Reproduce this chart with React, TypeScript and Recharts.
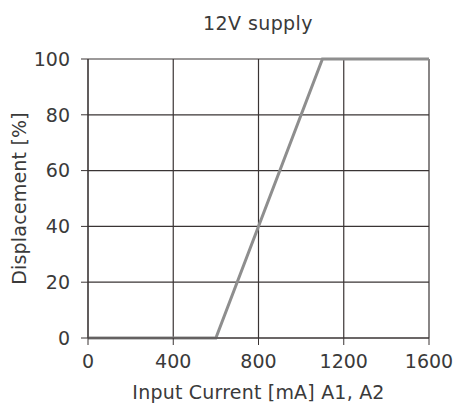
import { CartesianGrid, Label, Line, LineChart, XAxis, YAxis } from "recharts";

// Displacement vs input current, 12V supply
const currentMa = [0, 600, 1100, 1600];
const displacementPct = [0, 0, 100, 100];
const xTicks = [0, 400, 800, 1200, 1600];
const yTicks = [0, 20, 40, 60, 80, 100];

const data = currentMa.map((x, i) => ({ x, y: displacementPct[i] }));

const FONT = "'DejaVu Sans', sans-serif";
const INK = "#3a3434";
const TEXT = "#3a3a3a";
const FS = 19;

// custom ticks so the font size is applied for sure
const XTick = (p: any) => (
  <text x={p.x} y={p.y} dy="0.71em" textAnchor="middle" fontSize={FS} fontFamily={FONT} fill={TEXT}>
    {p.payload.value}
  </text>
);
const YTick = (p: any) => (
  <text x={p.x} y={p.y} dy="0.36em" textAnchor="end" fontSize={FS} fontFamily={FONT} fill={TEXT}>
    {p.payload.value}
  </text>
);

export default function App() {
  return (
    <div style={{ position: "absolute", left: 0, top: 0, width: 455, height: 405, background: "#fff" }}>
      <LineChart
        width={455}
        height={405}
        data={data}
        margin={{ top: 59, right: 26, left: 48, bottom: 27 }}
      >
        <text
          x={258}
          y={30}
          textAnchor="middle"
          style={{ fontSize: FS, fill: TEXT, fontFamily: FONT, letterSpacing: 0.4 }}
        >
          12V supply
        </text>
        <CartesianGrid stroke={INK} strokeWidth={1.2} />
        <XAxis
          dataKey="x"
          type="number"
          domain={[0, 1600]}
          ticks={xTicks}
          tick={XTick}
          tickSize={7}
          tickMargin={10}
          stroke={INK}
          height={40}
          interval={0}
        >
          <Label
            value="Input Current [mA] A1, A2"
            position="bottom"
            offset={8}
            style={{ fontSize: FS, fill: TEXT, fontFamily: FONT, letterSpacing: 0.2 }}
          />
        </XAxis>
        <YAxis
          dataKey="y"
          type="number"
          domain={[0, 100]}
          ticks={yTicks}
          tick={YTick}
          tickSize={7}
          tickMargin={11}
          stroke={INK}
          width={40}
          interval={0}
        >
          <Label
            value="Displacement [%]"
            angle={-90}
            position="left"
            offset={29}
            style={{ fontSize: FS, fill: TEXT, fontFamily: FONT, letterSpacing: 0.2, textAnchor: "middle" }}
          />
        </YAxis>
        <Line
          dataKey="y"
          stroke="#8e8e8e"
          strokeWidth={3}
          dot={false}
          isAnimationActive={false}
        />
      </LineChart>
    </div>
  );
}
